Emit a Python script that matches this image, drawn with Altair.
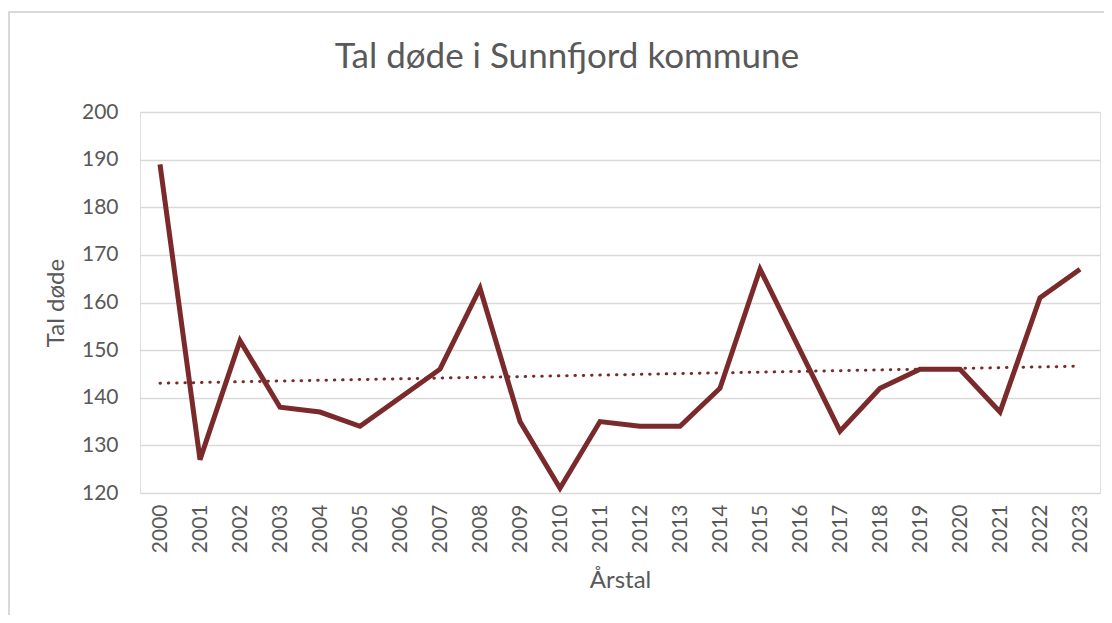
import altair as alt
import pandas as pd

years = list(range(2000, 2024))
deaths = [189, 127, 152, 138, 137, 134, 140, 146, 163, 135, 121, 135,
          134, 134, 142, 167, 150, 133, 142, 146, 146, 137, 161, 167]
y_ticks = [120, 130, 140, 150, 160, 170, 180, 190, 200]

df = pd.DataFrame({"Årstal": years, "Tal døde": deaths})

FONT = "Lato"
TXT = "#595959"
LINE = "#7B2A2C"

base = alt.Chart(df)

x_enc = alt.X("Årstal:Q",
              scale=alt.Scale(domain=[1999.5, 2023.5], nice=False, zero=False),
              axis=alt.Axis(values=years, format="d", labelAngle=270, grid=False,
                            domain=False, ticks=False, labelPadding=11,
                            labelFontSize=21, labelColor=TXT, labelFont=FONT,
                            title="Årstal", titleFontSize=24, titleColor=TXT,
                            titleFont=FONT, titleFontWeight="normal", titlePadding=16,
                            labelAlign="right", labelBaseline="middle"))
y_enc = alt.Y("Tal døde:Q",
              scale=alt.Scale(domain=[120, 200], nice=False, zero=False),
              axis=alt.Axis(values=y_ticks, grid=True, gridColor="#d9d9d9",
                            gridWidth=1.5, domain=False, ticks=False,
                            labelPadding=22, labelFontSize=21, labelColor=TXT,
                            labelFont=FONT, title="Tal døde", titleFontSize=24,
                            titleColor=TXT, titleFont=FONT,
                            titleFontWeight="normal", titlePadding=13))

line = base.mark_line(color=LINE, strokeWidth=5, strokeJoin="miter").encode(x=x_enc, y=y_enc)

trend = base.transform_regression("Årstal", "Tal døde").mark_line(
    color=LINE, strokeWidth=3, strokeDash=[0.5, 7.8], strokeCap="round"
).encode(x="Årstal:Q", y="Tal døde:Q")

frame = alt.Chart(alt.Data(values=[{"a": 1}])).mark_rect(
    fill=None, stroke="#d9d9d9", strokeWidth=2, clip=False
).encode(x=alt.value(-131), x2=alt.value(1000), y=alt.value(-100), y2=alt.value(530))

chart = alt.layer(frame, line, trend).properties(
    width=960, height=381,
    title=alt.TitleParams("Tal døde i Sunnfjord kommune", fontSize=35, color=TXT,
                          font=FONT, fontWeight="normal", anchor="middle",
                          frame="group", dx=-53, offset=-64),
    autosize=alt.AutoSizeParams(type="none"),
    padding={"left": 132, "top": 104, "right": 4, "bottom": 122},
).configure_view(stroke=None).configure(background="white")

chart.save("out.html", embed_options={"renderer": "svg", "actions": False})
